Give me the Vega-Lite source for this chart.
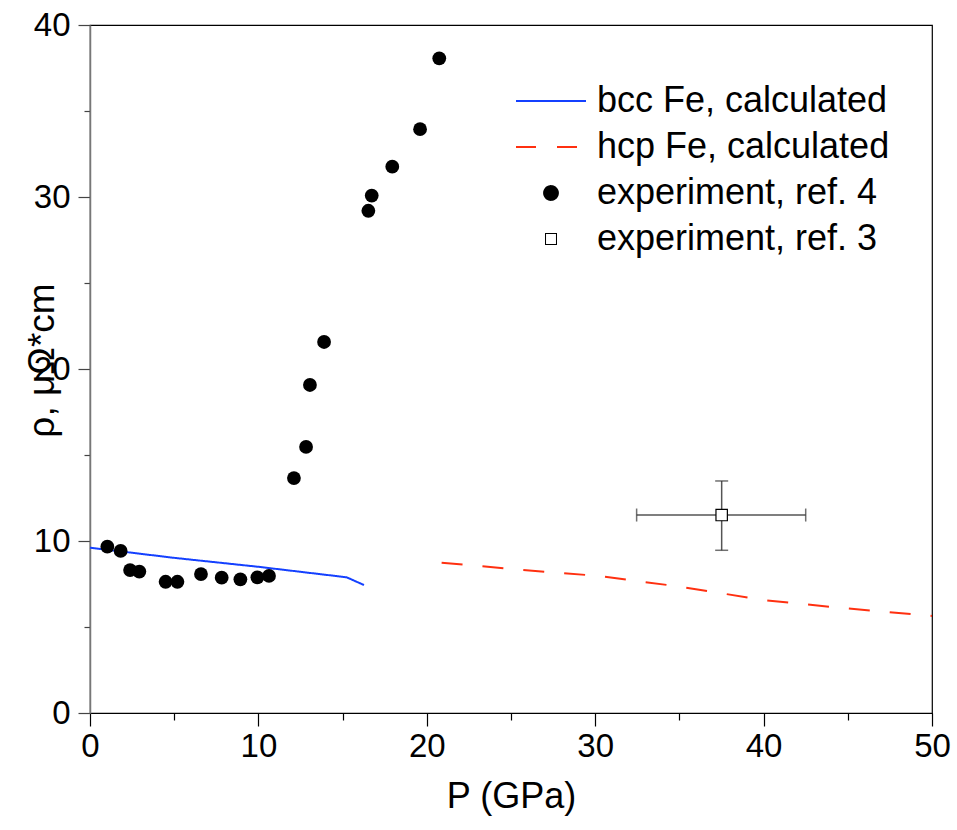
{
  "$schema": "https://vega.github.io/schema/vega-lite/v6.json",
  "width": 842,
  "height": 688,
  "autosize": {"type": "none"},
  "padding": {"left": 90, "top": 25, "right": 25, "bottom": 117},
  "background": "white",
  "datasets": {
    "calc": [
      {"P": 0, "rho": 9.61, "series": "bcc Fe, calculated"},
      {"P": 5, "rho": 9.02, "series": "bcc Fe, calculated"},
      {"P": 10, "rho": 8.5, "series": "bcc Fe, calculated"},
      {"P": 15.24, "rho": 7.89, "series": "bcc Fe, calculated"},
      {"P": 16.27, "rho": 7.44, "series": "bcc Fe, calculated"},
      {"P": 20.88, "rho": 8.74, "series": "hcp Fe, calculated"},
      {"P": 25.28, "rho": 8.35, "series": "hcp Fe, calculated"},
      {"P": 30.18, "rho": 7.97, "series": "hcp Fe, calculated"},
      {"P": 35.08, "rho": 7.34, "series": "hcp Fe, calculated"},
      {"P": 39.98, "rho": 6.57, "series": "hcp Fe, calculated"},
      {"P": 44.83, "rho": 6.09, "series": "hcp Fe, calculated"},
      {"P": 50, "rho": 5.64, "series": "hcp Fe, calculated"}
    ],
    "exp4": [
      {"P": 1.03, "rho": 9.67, "series": "experiment, ref. 4"},
      {"P": 1.82, "rho": 9.42, "series": "experiment, ref. 4"},
      {"P": 2.38, "rho": 8.31, "series": "experiment, ref. 4"},
      {"P": 2.93, "rho": 8.22, "series": "experiment, ref. 4"},
      {"P": 4.49, "rho": 7.63, "series": "experiment, ref. 4"},
      {"P": 5.19, "rho": 7.63, "series": "experiment, ref. 4"},
      {"P": 6.59, "rho": 8.08, "series": "experiment, ref. 4"},
      {"P": 7.82, "rho": 7.87, "series": "experiment, ref. 4"},
      {"P": 8.93, "rho": 7.77, "series": "experiment, ref. 4"},
      {"P": 9.94, "rho": 7.89, "series": "experiment, ref. 4"},
      {"P": 10.63, "rho": 7.97, "series": "experiment, ref. 4"},
      {"P": 12.11, "rho": 13.66, "series": "experiment, ref. 4"},
      {"P": 12.83, "rho": 15.47, "series": "experiment, ref. 4"},
      {"P": 13.06, "rho": 19.07, "series": "experiment, ref. 4"},
      {"P": 13.9, "rho": 21.57, "series": "experiment, ref. 4"},
      {"P": 16.53, "rho": 29.2, "series": "experiment, ref. 4"},
      {"P": 16.73, "rho": 30.08, "series": "experiment, ref. 4"},
      {"P": 17.95, "rho": 31.76, "series": "experiment, ref. 4"},
      {"P": 19.6, "rho": 33.94, "series": "experiment, ref. 4"},
      {"P": 20.74, "rho": 38.06, "series": "experiment, ref. 4"}
    ],
    "exp3": [
      {"P": 37.51, "rho": 11.51, "Plo": 32.46, "Phi": 42.5, "rlo": 9.46, "rhi": 13.49, "series": "experiment, ref. 3"}
    ]
  },
  "config": {
    "font": "Liberation Sans",
    "view": {"stroke": "black", "strokeWidth": 1.2}
  },
  "encoding": {
    "x": {
      "field": "P", "type": "quantitative",
      "scale": {"domain": [0, 50], "nice": false, "zero": false},
      "axis": {
        "title": "P (GPa)",
        "values": [0, 5, 10, 15, 20, 25, 30, 35, 40, 45, 50],
        "labelExpr": "datum.value % 10 == 0 ? datum.label : ''",
        "tickSize": {"condition": {"test": "datum.value % 10 == 0", "value": 13}, "value": 7},
        "tickColor": "black", "tickWidth": 1.2,
        "domainColor": "black", "domainWidth": 1.2,
        "grid": false,
        "labelFontSize": 33, "labelColor": "black", "labelPadding": 4,
        "labelFlush": false, "labelOverlap": false,
        "titleFontSize": 36, "titleFontWeight": "normal", "titleColor": "black",
        "titleY": 66, "titleBaseline": "top"
      }
    },
    "y": {
      "field": "rho", "type": "quantitative",
      "scale": {"domain": [0, 40], "nice": false, "zero": false},
      "axis": {
        "title": "ρ, μΩ*cm",
        "values": [0, 5, 10, 15, 20, 25, 30, 35, 40],
        "labelExpr": "datum.value % 10 == 0 ? datum.label : ''",
        "tickSize": {"condition": {"test": "datum.value % 10 == 0", "value": 12}, "value": 6},
        "tickColor": "#444", "tickWidth": 1.2,
        "domainColor": "#777", "domainWidth": 1.5,
        "grid": false,
        "labelFontSize": 33, "labelColor": "black", "labelPadding": 8,
        "labelFlush": false, "labelOverlap": false,
        "titleFontSize": 37, "titleFontWeight": "normal", "titleColor": "black",
        "titleX": -37, "titleY": 335, "titleBaseline": "alphabetic", "titleAngle": 270
      }
    }
  },
  "layer": [
    {
      "data": {"name": "calc"},
      "mark": {"type": "line", "strokeWidth": 2},
      "encoding": {
        "color": {
          "field": "series", "type": "nominal",
          "scale": {
            "domain": ["bcc Fe, calculated", "hcp Fe, calculated", "experiment, ref. 4", "experiment, ref. 3"],
            "range": ["#1440ff", "#ff3010", "black", "black"]
          },
          "legend": {
            "orient": "none", "legendX": 443, "legendY": 58,
            "title": null, "padding": 0,
            "symbolType": "stroke", "symbolSize": 4900, "symbolStrokeWidth": 2,
            "labelFontSize": 36, "labelColor": "black", "labelOffset": 28, "labelLimit": 500,
            "rowPadding": 10,
            "encode": {
              "symbols": {
                "update": {
                  "shape": {"signal": "datum.value == 'experiment, ref. 4' ? 'circle' : datum.value == 'experiment, ref. 3' ? 'M-1,-1H1V1H-1Z M-0.83,-0.83V0.83H0.83V-0.83Z' : 'stroke'"},
                  "size": {"signal": "datum.value == 'experiment, ref. 4' ? 190 : datum.value == 'experiment, ref. 3' ? 144 : 4900"},
                  "fill": {"signal": "datum.value == 'experiment, ref. 4' || datum.value == 'experiment, ref. 3' ? 'black' : 'transparent'"},
                  "stroke": {"signal": "datum.value == 'bcc Fe, calculated' ? '#1440ff' : datum.value == 'hcp Fe, calculated' ? '#ff3010' : 'black'"},
                  "strokeDash": {"signal": "datum.value == 'hcp Fe, calculated' ? [20, 21] : [1, 0]"},
                  "strokeWidth": {"signal": "datum.value == 'experiment, ref. 3' ? 0 : 2"},
                  "opacity": {"value": 1}
                }
              }
            }
          }
        },
        "strokeDash": {
          "field": "series", "type": "nominal",
          "scale": {"domain": ["bcc Fe, calculated", "hcp Fe, calculated"], "range": [[1, 0], [21, 20]]},
          "legend": null
        }
      }
    },
    {
      "data": {"name": "exp3"},
      "mark": {"type": "rule", "color": "#555", "strokeWidth": 1.5},
      "encoding": {"x": {"field": "Plo", "type": "quantitative"}, "x2": {"field": "Phi"}}
    },
    {
      "data": {"name": "exp3"},
      "mark": {"type": "rule", "color": "#555", "strokeWidth": 1.5},
      "encoding": {"y": {"field": "rlo", "type": "quantitative"}, "y2": {"field": "rhi"}}
    },
    {
      "data": {"name": "exp3"},
      "mark": {"type": "tick", "orient": "vertical", "color": "#333", "size": 13, "thickness": 1.5},
      "encoding": {"x": {"field": "Plo", "type": "quantitative"}}
    },
    {
      "data": {"name": "exp3"},
      "mark": {"type": "tick", "orient": "vertical", "color": "#333", "size": 13, "thickness": 1.5},
      "encoding": {"x": {"field": "Phi", "type": "quantitative"}}
    },
    {
      "data": {"name": "exp3"},
      "mark": {"type": "tick", "orient": "horizontal", "color": "#333", "size": 13, "thickness": 1.5},
      "encoding": {"y": {"field": "rlo", "type": "quantitative"}}
    },
    {
      "data": {"name": "exp3"},
      "mark": {"type": "tick", "orient": "horizontal", "color": "#333", "size": 13, "thickness": 1.5},
      "encoding": {"y": {"field": "rhi", "type": "quantitative"}}
    },
    {
      "data": {"name": "exp4"},
      "mark": {"type": "point", "shape": "circle", "filled": true, "size": 190, "opacity": 1},
      "encoding": {"color": {"field": "series", "type": "nominal"}}
    },
    {
      "data": {"name": "exp3"},
      "mark": {"type": "point", "shape": "square", "filled": false, "fill": "white", "size": 130, "strokeWidth": 1.2, "opacity": 1},
      "encoding": {"color": {"field": "series", "type": "nominal"}}
    }
  ]
}
